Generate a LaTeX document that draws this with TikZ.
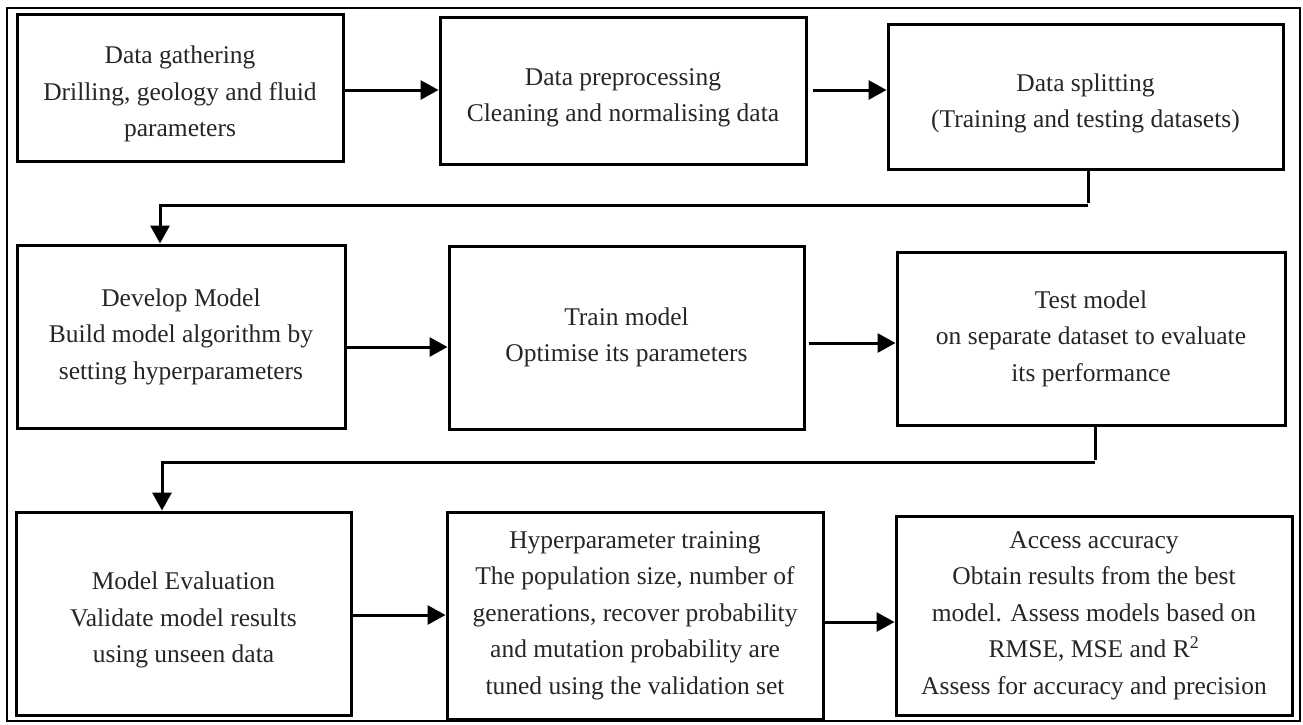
\documentclass[tikz,border=0pt]{standalone}
\usepackage{fontspec}
\setmainfont{Liberation Serif}
\usetikzlibrary{arrows.meta}
\newcommand{\topgap}{\rule{0pt}{31pt}}
\begin{document}
\begin{tikzpicture}[x=1pt,y=-1pt,
  stagebox/.style={draw=black, line width=3pt, rectangle, inner sep=0pt, align=center,
    font=\fontsize{25.5}{36.5}\selectfont, text=black!85},
  arr/.style={line width=3pt, -{Triangle[length=18pt,width=19pt]}},
  link/.style={line width=3pt}]
\useasboundingbox (0,0) rectangle (1303,724);
\fill[white] (0,0) rectangle (1303,724);
\draw[line width=2.5pt] (7,8) rectangle (1300,721);
% row 1
\node[stagebox, minimum width=326pt, minimum height=147pt] (b1) at (180,87.5)
  {\topgap Data gathering\\Drilling, geology and fluid\\parameters};
\node[stagebox, minimum width=366pt, minimum height=147pt] (b2) at (623,90.5)
  {\topgap Data preprocessing\\Cleaning and normalising data};
\node[stagebox, minimum width=395pt, minimum height=145pt] (b3) at (1085.5,96.5)
  {\topgap Data splitting\\(Training and testing datasets)};
% row 2
\node[stagebox, minimum width=328pt, minimum height=183pt] (b4) at (181,336.5)
  {Develop Model\\Build model algorithm by\\setting hyperparameters};
\node[stagebox, minimum width=355pt, minimum height=183pt] (b5) at (626.5,337.5)
  {Train model\\Optimise its parameters};
\node[stagebox, minimum width=388pt, minimum height=173pt] (b6) at (1091,338.5)
  {Test model\\on separate dataset to evaluate\\its performance};
% row 3
\node[stagebox, minimum width=335pt, minimum height=203pt] (b7) at (183.5,613.5)
  {\topgap Model Evaluation\\Validate model results\\using unseen data};
\node[stagebox, minimum width=376pt, minimum height=207pt] (b8) at (635,615.5)
  {Hyperparameter training\\The population size, number of\\generations, recover probability\\and mutation probability are\\tuned using the validation set};
\node[stagebox, minimum width=396pt, minimum height=199pt] (b9) at (1094,615.5)
  {Access accuracy\\Obtain results from the best\\model. Assess models based on\\RMSE, MSE and R\textsuperscript{2}\\Assess for accuracy and precision};
% horizontal arrows
\draw[arr] (b1.east |- 0,90) -- (b2.west |- 0,90);
\draw[arr] ([xshift=5pt]b2.east |- 0,90) -- (b3.west |- 0,90);
\draw[arr] (b4.east |- 0,347) -- (b5.west |- 0,347);
\draw[arr] ([xshift=3pt]b5.east |- 0,343) -- (b6.west |- 0,343);
\draw[arr] (b7.east |- 0,615) -- (b8.west |- 0,615);
\draw[arr] (b8.east |- 0,622) -- (b9.west |- 0,622);
% return connectors
\coordinate (k1) at (1088,205);
\coordinate (k2) at (1095,462);
\draw[link] (b3.south -| k1) -- ([yshift=2pt]k1);
\draw[arr] (k1) -- (k1 -| 160,0) -- (b4.north -| 160,0);
\draw[link] (b6.south -| k2) -- ([yshift=2pt]k2);
\draw[arr] (k2) -- (k2 -| 162,0) -- (b7.north -| 162,0);
\end{tikzpicture}
\end{document}
